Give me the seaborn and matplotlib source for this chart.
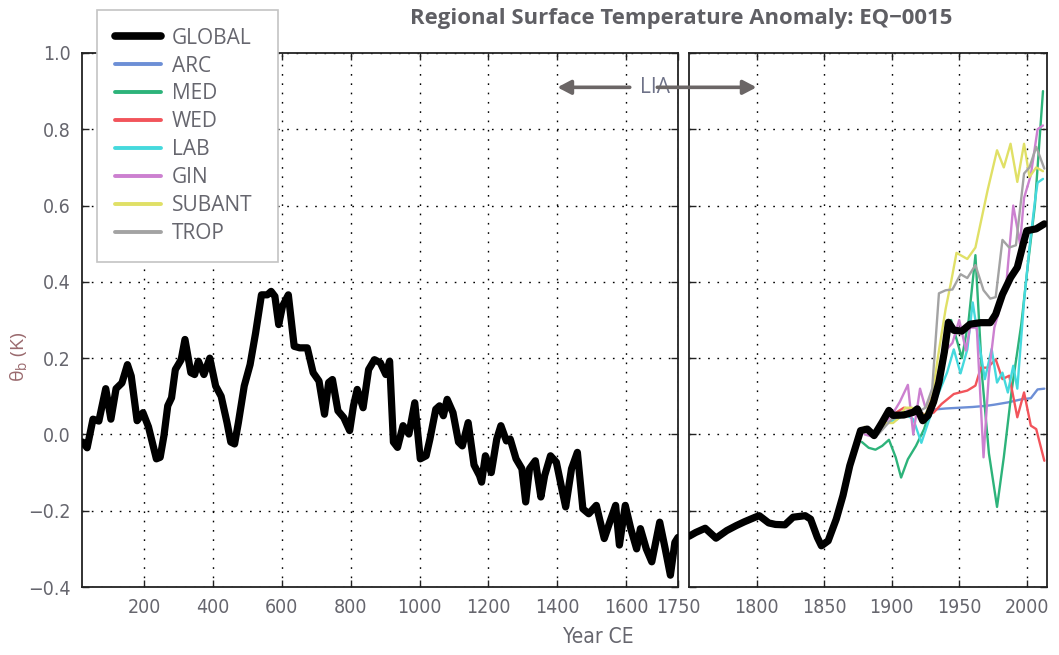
import matplotlib
matplotlib.use("Agg")
import matplotlib.pyplot as plt
from matplotlib.lines import Line2D
import seaborn as sns
import pandas as pd

# ---- global mean, common era to 1750 ----
EARLY_YEARS = [22, 35, 52, 69, 89, 104, 119, 136, 152, 163, 180, 197, 213, 236, 247, 258,
               269, 280, 291, 308, 319, 336, 347, 358, 374, 391, 408, 424, 441, 452, 463,
               474, 491, 508, 524, 541, 558, 569, 580, 591, 602, 619, 636, 652, 674, 691,
               708, 724, 736, 747, 763, 780, 797, 808, 819, 836, 852, 869, 886, 902, 913,
               924, 936, 952, 969, 986, 1002, 1019, 1030, 1047, 1058, 1069, 1080, 1097,
               1113, 1124, 1141, 1158, 1174, 1180, 1191, 1208, 1224, 1236, 1252, 1263,
               1280, 1297, 1308, 1319, 1336, 1352, 1363, 1380, 1397, 1413, 1424, 1441,
               1458, 1474, 1491, 1513, 1536, 1552, 1569, 1580, 1597, 1613, 1630, 1641,
               1658, 1674, 1697, 1713, 1728, 1741, 1750]
EARLY_GLOBAL = [-0.02, -0.035, 0.04, 0.035, 0.12, 0.04, 0.12, 0.135, 0.183, 0.153, 0.036,
                0.057, 0.02, -0.064, -0.06, -0.003, 0.075, 0.096, 0.17, 0.196, 0.249,
                0.162, 0.157, 0.192, 0.157, 0.20, 0.127, 0.10, 0.031, -0.02, -0.025, 0.031,
                0.127, 0.183, 0.266, 0.366, 0.366, 0.375, 0.362, 0.288, 0.336, 0.366,
                0.231, 0.227, 0.227, 0.162, 0.14, 0.053, 0.136, 0.144, 0.062, 0.044, 0.01,
                0.075, 0.118, 0.07, 0.17, 0.196, 0.188, 0.157, 0.192, -0.02, -0.034, 0.023,
                0.001, 0.083, -0.064, -0.056, -0.012, 0.066, 0.075, 0.049, 0.092, 0.057,
                -0.02, -0.03, 0.031, -0.08, -0.108, -0.125, -0.056, -0.10, -0.012, 0.023,
                -0.017, -0.012, -0.064, -0.09, -0.177, -0.09, -0.069, -0.164, -0.108,
                -0.056, -0.073, -0.143, -0.19, -0.09, -0.047, -0.195, -0.208, -0.186,
                -0.273, -0.23, -0.186, -0.29, -0.186, -0.247, -0.30, -0.247, -0.30,
                -0.334, -0.23, -0.30, -0.369, -0.283, -0.27]

# ---- global mean, 1750 to present ----
LATE_YEARS = [1750, 1755, 1762, 1770, 1778, 1785, 1791, 1799, 1802, 1809, 1814, 1821, 1827,
              1836, 1840, 1845, 1848, 1853, 1859, 1864, 1869, 1877, 1882, 1887, 1893, 1898,
              1901, 1909, 1916, 1919, 1923, 1927, 1931, 1935, 1939, 1942, 1946, 1952, 1958,
              1966, 1973, 1977, 1982, 1988, 1993, 1998, 2000, 2007, 2013]
LATE_GLOBAL = [-0.267, -0.257, -0.246, -0.272, -0.252, -0.239, -0.229, -0.217, -0.213,
               -0.232, -0.236, -0.237, -0.217, -0.213, -0.222, -0.27, -0.292, -0.279,
               -0.222, -0.16, -0.082, 0.01, 0.014, -0.003, 0.032, 0.063, 0.05, 0.051, 0.058,
               0.067, 0.036, 0.05, 0.085, 0.137, 0.216, 0.294, 0.273, 0.271, 0.289, 0.293,
               0.293, 0.315, 0.367, 0.411, 0.438, 0.508, 0.534, 0.539, 0.552]

# ---- regional series ----
ARC_YEARS = [1930, 1940, 1950, 1960, 1970, 1976, 1986, 1996, 2003, 2008, 2013]
ARC = [0.065, 0.068, 0.07, 0.072, 0.075, 0.078, 0.084, 0.092, 0.095, 0.118, 0.12]

MED_YEARS = [1878, 1883, 1888, 1893, 1898, 1903, 1907, 1912, 1918, 1924, 1929, 1934, 1939,
             1944, 1948, 1952, 1957, 1962, 1967, 1972, 1978, 1983, 1989, 1996, 2001, 2006,
             2012]
MED = [-0.02, -0.035, -0.04, -0.03, -0.014, -0.06, -0.113, -0.065, -0.03, 0.014, 0.07, 0.12,
       0.2, 0.3, 0.25, 0.2, 0.3, 0.47, 0.15, -0.05, -0.19, -0.06, 0.12, 0.29, 0.45, 0.6, 0.9]

WED_YEARS = [1900, 1909, 1916, 1924, 1931, 1937, 1946, 1956, 1962, 1966, 1971, 1977, 1982,
             1987, 1993, 1998, 2003, 2007, 2013]
WED = [0.05, 0.07, 0.066, 0.053, 0.057, 0.08, 0.106, 0.115, 0.128, 0.175, 0.175, 0.197,
       0.145, 0.154, 0.045, 0.11, 0.023, 0.014, -0.069]

LAB_YEARS = [1895, 1904, 1910, 1916, 1922, 1927, 1933, 1941, 1946, 1951, 1956, 1960, 1963,
             1969, 1974, 1978, 1982, 1986, 1990, 1993, 1998, 2002, 2006, 2008, 2012]
LAB = [0.03, 0.04, 0.053, 0.04, -0.022, 0.031, 0.093, 0.162, 0.223, 0.16, 0.223, 0.346,
       0.276, 0.145, 0.224, 0.136, 0.162, 0.11, 0.18, 0.12, 0.35, 0.49, 0.61, 0.66, 0.67]

GIN_YEARS = [1880, 1885, 1890, 1895, 1900, 1906, 1912, 1916, 1921, 1925, 1930, 1935, 1940,
             1945, 1950, 1955, 1958, 1963, 1968, 1972, 1976, 1980, 1985, 1990, 1995, 1998,
             2003, 2008, 2012]
GIN = [0.0, -0.005, 0.02, 0.03, 0.05, 0.085, 0.13, 0.0, 0.12, 0.07, 0.1, 0.17, 0.22, 0.24,
       0.30, 0.22, 0.28, 0.28, -0.06, 0.16, 0.28, 0.33, 0.40, 0.60, 0.50, 0.62, 0.68, 0.80,
       0.81]

SUBANT_YEARS = [1880, 1886, 1891, 1896, 1901, 1906, 1910, 1915, 1920, 1925, 1930, 1935,
                1940, 1944, 1948, 1956, 1962, 1971, 1978, 1983, 1988, 1993, 1998, 2002,
                2007, 2012]
SUBANT = [0.02, -0.003, 0.01, 0.03, 0.03, 0.045, 0.07, 0.07, 0.06, 0.05, 0.1, 0.22, 0.33,
          0.40, 0.476, 0.46, 0.49, 0.64, 0.745, 0.70, 0.762, 0.662, 0.762, 0.675, 0.70, 0.69]

TROP_YEARS = [1880, 1890, 1900, 1910, 1920, 1925, 1930, 1935, 1940, 1945, 1951, 1956, 1962,
              1968, 1973, 1977, 1982, 1987, 1992, 1998, 2002, 2007, 2013]
TROP = [0.01, 0.0, 0.04, 0.05, 0.06, 0.07, 0.12, 0.37, 0.378, 0.38, 0.42, 0.41, 0.444,
        0.378, 0.356, 0.36, 0.51, 0.49, 0.496, 0.684, 0.70, 0.754, 0.697]

REGIONS = ["ARC", "MED", "WED", "LAB", "GIN", "SUBANT", "TROP"]
REGION_DATA = {
    "ARC": (ARC_YEARS, ARC), "MED": (MED_YEARS, MED), "WED": (WED_YEARS, WED),
    "LAB": (LAB_YEARS, LAB), "GIN": (GIN_YEARS, GIN), "SUBANT": (SUBANT_YEARS, SUBANT),
    "TROP": (TROP_YEARS, TROP),
}
COLORS = {"GLOBAL": "#000000", "ARC": "#6d8fd6", "MED": "#2db37a", "WED": "#f2545b",
          "LAB": "#45d9dd", "GIN": "#cc80d0", "SUBANT": "#e0e066", "TROP": "#a3a3a3"}

Y_TICKS = [-0.4, -0.2, 0.0, 0.2, 0.4, 0.6, 0.8, 1.0]
EARLY_TICKS = [200, 400, 600, 800, 1000, 1200, 1400, 1600, 1750]
LATE_TICKS = [1800, 1850, 1900, 1950, 2000]

sns.set_style("white")
TEXT_GREY = "#66666e"
plt.rcParams["font.family"] = ["Open Sans", "DejaVu Sans"]
plt.rcParams["axes.unicode_minus"] = True
plt.rcParams["mathtext.default"] = "regular"


def narrow(label):
    label.set_family(["DejaVu Sans"])
    label.set_fontstretch("condensed")


fig = plt.figure(figsize=(10.59, 6.55), dpi=100)
ax1 = fig.add_axes([0.0774, 0.1038, 0.5628, 0.8153])
ax2 = fig.add_axes([0.6506, 0.1038, 0.3381, 0.8153])

GLOBAL_LW = 5.2
REGION_LW = 1.7

early = pd.DataFrame({"year": EARLY_YEARS, "anom": EARLY_GLOBAL})
late = pd.DataFrame({"year": LATE_YEARS, "anom": LATE_GLOBAL})

sns.lineplot(data=early, x="year", y="anom", ax=ax1, color=COLORS["GLOBAL"],
             lw=GLOBAL_LW, estimator=None, sort=False, zorder=5)

for name in REGIONS:
    yrs, vals = REGION_DATA[name]
    sns.lineplot(x=yrs, y=vals, ax=ax2, color=COLORS[name], lw=REGION_LW,
                 estimator=None, sort=False, zorder=3)
sns.lineplot(data=late, x="year", y="anom", ax=ax2, color=COLORS["GLOBAL"],
             lw=GLOBAL_LW, estimator=None, sort=False, zorder=5)

grid_kw = dict(color="black", lw=1.0, linestyle=(0, (1.2, 5.5)))
for ax, xlim, xt in ((ax1, (20, 1750), EARLY_TICKS), (ax2, (1750, 2015), LATE_TICKS)):
    ax.set_xlim(*xlim)
    ax.set_ylim(-0.4, 1.0)
    ax.set_xticks(xt)
    ax.set_yticks(Y_TICKS)
    ax.grid(True, **grid_kw)
    ax.set_xlabel("")
    ax.set_ylabel("")
    for sp in ax.spines.values():
        sp.set_color("#222222")
        sp.set_linewidth(1.3)
        sp.set_visible(True)
    ax.tick_params(direction="in", length=5, width=1.0, color="#222222",
                   top=True, right=True, bottom=True, left=True,
                   labelsize=14, labelcolor=TEXT_GREY, pad=8)

ax1.set_yticklabels([f"{v:.1f}".replace("-", "\u2212") for v in Y_TICKS])
ax1.set_xticklabels([str(v) for v in EARLY_TICKS])
ax2.set_yticklabels([])
for lab in ax1.get_xticklabels() + ax1.get_yticklabels() + ax2.get_xticklabels():
    narrow(lab)

fig.text(0.0174, 0.455, "\u03b8$_b$ (K)", rotation=90, ha="center", va="center",
         fontsize=14, color="#9a6a6e")
xl = fig.text(0.565, 0.027, "Year CE", ha="center", va="center", fontsize=15,
              color=TEXT_GREY)
narrow(xl)
fig.text(0.643, 0.972, "Regional Surface Temperature Anomaly: EQ\u22120015", ha="center",
         va="center", fontsize=15.9, fontweight="bold", color="#5f5f64")

# Little Ice Age span, drawn across both panels
arrow_kw = dict(arrowstyle="-|>,head_length=0.8,head_width=0.42", color="#6b6666", lw=2.6,
                shrinkA=0, shrinkB=0)
ax1.annotate("", xy=(1400, 0.91), xycoords=ax1.transData,
             xytext=(1610, 0.91), textcoords=ax1.transData, arrowprops=arrow_kw,
             annotation_clip=False, zorder=10)
ax2.annotate("", xy=(1800, 0.91), xycoords=ax2.transData,
             xytext=(1690, 0.91), textcoords=ax1.transData, arrowprops=arrow_kw,
             annotation_clip=False, zorder=10)
ax1.text(1683, 0.91, "LIA", ha="center", va="center", fontsize=15, color="#6e7288",
         zorder=11, bbox=dict(facecolor="white", edgecolor="none", pad=1.0))

# legend, stretched to a fixed box width
handles = [Line2D([], [], color=COLORS["GLOBAL"], lw=5.5)]
handles += [Line2D([], [], color=COLORS[n], lw=2.8) for n in REGIONS]
labels = ["GLOBAL"] + REGIONS
leg = fig.legend(handles, labels, loc="upper left", mode="expand",
                 bbox_to_anchor=(97 / 1059, 1 - 258 / 655, 181 / 1059, 248 / 655),
                 frameon=True, fancybox=False,
                 fontsize=15, labelspacing=0.33, handlelength=2.2, handletextpad=0.55,
                 borderpad=0.85, borderaxespad=0.0, labelcolor=TEXT_GREY)
leg.get_frame().set_edgecolor("#c4c4c4")
leg.get_frame().set_linewidth(1.2)
leg.get_frame().set_alpha(1.0)
leg.set_zorder(20)

fig.savefig("out.png", dpi=100)
